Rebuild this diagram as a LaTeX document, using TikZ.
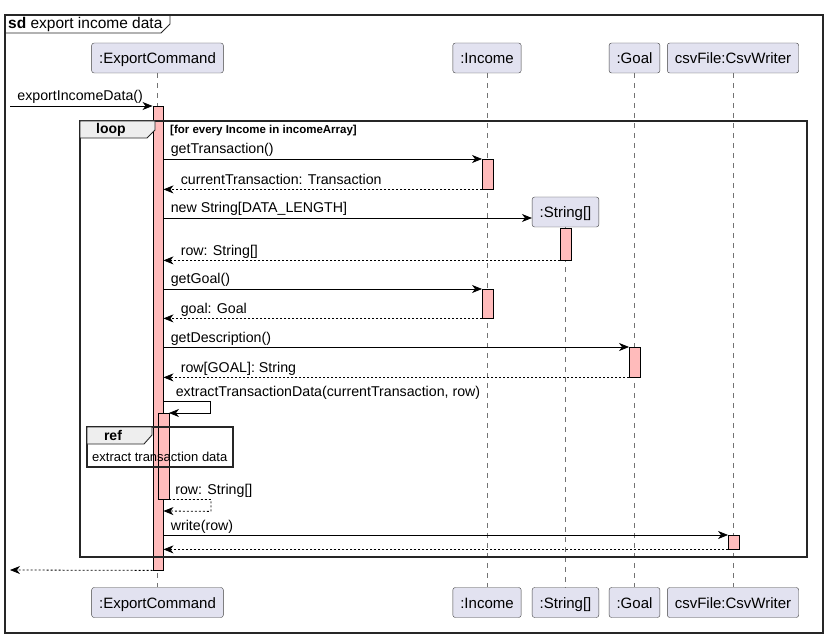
\documentclass[tikz,border=0pt]{standalone}
\usepackage{fontspec}
\setmainfont{Liberation Sans}
\usetikzlibrary{arrows.meta}
\definecolor{partFill}{HTML}{E2E2F0}
\definecolor{actFill}{HTML}{FFBBBB}
\definecolor{tabFill}{HTML}{EEEEEE}

\begin{document}
\begin{tikzpicture}[x=1pt, y=-1pt,
        part/.style={draw=black!75, fill=partFill, rounded corners=2.5pt, minimum height=30, inner xsep=7.5, text height=11, text depth=0, font=\fontsize{15}{18}\selectfont},
        act/.style={draw=black, fill=actFill, minimum width=10.5, inner sep=0, anchor=north},
        lifeline/.style={draw=black!55, dash pattern=on 5pt off 5pt, line width=0.6},
        call/.style={-{Stealth[length=10pt, width=8pt, inset=3pt]}, line width=0.8},
        reply/.style={call, dash pattern=on 2pt off 2pt},
        msg/.style={anchor=base west, inner sep=0, yshift=5, font=\fontsize{14.2}{16}\selectfont},
        frame/.style={draw=black!85, line width=1.3},
        tab/.style={draw=black!85, fill=tabFill, line width=0.9},
    ]
            \useasboundingbox (0, 0) rectangle (828, 639);
            \fill[white] (0, 0) rectangle (828, 639);

            % participants and lifelines
            \foreach \pName/\pX/\pText in {ec/157.5/{:ExportCommand}, inc/487/{:Income}, goal/634.5/{:Goal}, csv/733/{csvFile:CsvWriter}} {
                \node[part] (\pName-top) at (\pX, 58) {\pText};
                \node[part] (\pName-bot) at (\pX, 602.5) {\pText};
                \draw[lifeline] (\pName-top) -- (\pName-bot);
            }
            \node[part] (str-top) at (565.5, 212) {:String[]};
            \node[part] (str-bot) at (565.5, 602.5) {:String[]};
            \draw[lifeline] (str-top) -- (str-bot);

            % activations
            \foreach \aName/\aX/\aY/\aH in {ecA/158/106/464, incA1/487.5/159/30, strA/565.5/228/32, incA2/487.5/289/29, goalA/634.5/347/30, ecA2/163.5/413/86, csvA/733.5/535/14}
                \node[act, minimum height=\aH] (\aName) at (\aX, \aY) {};

            % messages
            \coordinate (gateIn) at (10, 106);
            \coordinate (gateOut) at (10, 570);
            \draw[call] (gateIn) -- node[msg, pos=0, xshift=7] {exportIncomeData()} (ecA.north west);
            \draw[call] (ecA.east |- incA1.north) -- node[msg, pos=0, xshift=7] {getTransaction()} (incA1.north west);
            \draw[reply] (incA1.south west) -- node[msg, pos=1, xshift=17] {currentTransaction: Transaction} (ecA.east |- incA1.south);
            \draw[call] (ecA.east |- 0, 218) -- node[msg, pos=0, xshift=7] {new String[DATA\_LENGTH]} ([yshift=-6pt]str-top.west);
            \draw[reply] (strA.south west) -- node[msg, pos=1, xshift=17] {row: String[]} (ecA.east |- strA.south);
            \draw[call] (ecA.east |- incA2.north) -- node[msg, pos=0, xshift=7] {getGoal()} (incA2.north west);
            \draw[reply] (incA2.south west) -- node[msg, pos=1, xshift=17] {goal: Goal} (ecA.east |- incA2.south);
            \draw[call] (ecA.east |- goalA.north) -- node[msg, pos=0, xshift=7] {getDescription()} (goalA.north west);
            \draw[reply] (goalA.south west) -- node[msg, pos=1, xshift=17] {row[GOAL]: String} (ecA.east |- goalA.south);
            \draw[call] (ecA.east |- 0, 401) -| node[msg, pos=0, xshift=12] {extractTransactionData(currentTransaction, row)} ++(47, 12) -- (ecA2.north east);
            \draw[reply] (ecA2.south east) -| node[msg, pos=0, xshift=6] {row: String[]} ++(42, 12) -- (ecA.east |- 0, 511);
            \draw[call] (ecA.east |- csvA.north) -- node[msg, pos=0, xshift=7] {write(row)} (csvA.north west);
            \draw[reply] (csvA.south west) -- (ecA.east |- csvA.south);
            \draw[reply] (ecA.south west) -- (gateOut);

            % frames
            \draw[frame] (5, 15) rectangle (823, 633);
            \draw[draw=black!85, line width=0.9] (5, 33) -- (161, 33) -- (170, 24) -- (170, 15);
            \node[anchor=base west, inner sep=0, font=\fontsize{15.5}{18}\selectfont] (title) at (8, 29) {\textbf{sd} export income data};

            \draw[frame, line width=1.7] (80, 121) rectangle (807, 557);
            \draw[tab] (80, 121) -- (155, 121) -- (155, 130) -- (147, 138) -- (80, 138) -- cycle;
            \node[font=\bfseries\fontsize{14}{16}\selectfont] (loopTag) at (111, 129.5) {loop};
            \node[anchor=base west, inner sep=0, font=\bfseries\fontsize{11.5}{14}\selectfont] (guard) at (170, 133.5) {[for every Income in incomeArray]};

            \draw[draw=black!85, line width=1.1] (87, 427) rectangle (233, 467);
            \draw[tab] (87, 427) -- (152, 427) -- (152, 435) -- (144, 444) -- (87, 444) -- cycle;
            \node[font=\bfseries\fontsize{14}{16}\selectfont] (refTag) at (113, 435.5) {ref};
            \node[anchor=base west, inner sep=0, font=\fontsize{13}{16}\selectfont] (refText) at (92, 461) {extract transaction data};
        \end{tikzpicture}
\end{document}
